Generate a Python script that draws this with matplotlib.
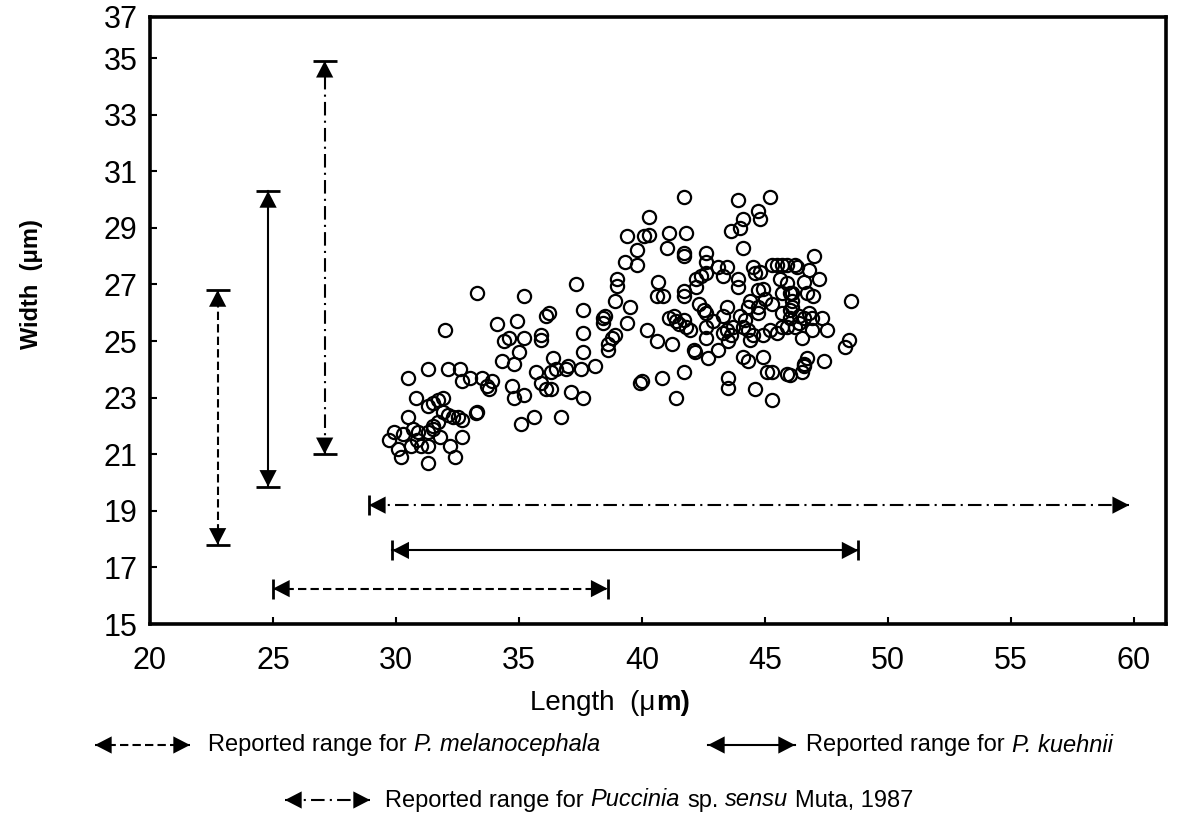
import matplotlib
matplotlib.use("Agg")
import matplotlib.pyplot as plt
from matplotlib.lines import Line2D
from matplotlib.patches import FancyArrowPatch
from matplotlib.offsetbox import TextArea, HPacker, AnchoredOffsetbox

plt.rcParams["font.family"] = ["Liberation Sans", "DejaVu Sans"]

# ── Data: teliospore length / width (µm) ─────────────────────────────
length_um = [
    33.3, 35.2, 36.1, 36.2, 32.0, 34.1, 34.9, 34.4, 34.6, 35.2,
    35.9, 35.9, 35.0, 34.3, 34.8, 36.4, 35.7, 36.3, 36.5, 35.9,
    36.1, 36.3, 34.7, 34.8, 35.2, 30.5, 31.3, 32.1, 32.6, 32.7,
    33.0, 33.5, 33.9, 33.7, 33.8, 30.8, 31.3, 31.5, 31.7, 31.9,
    33.3, 33.25, 30.5, 31.9, 32.1, 32.3, 32.5, 32.7, 31.7, 31.5,
    29.9, 29.7, 30.3, 30.7, 30.9, 30.85, 31.3, 31.5, 31.8, 32.7,
    30.1, 30.6, 31.0, 31.3, 32.2, 30.2, 32.4, 31.3, 35.1, 35.6,
    36.7, 41.7, 40.3, 39.4, 40.1, 40.3, 41.1, 41.8, 39.8, 41.0,
    41.7, 41.7, 39.3, 39.8, 37.3, 39.0, 39.0, 40.65, 40.6, 40.85,
    41.7, 41.7, 42.2, 42.2, 42.3, 38.9, 39.5, 37.6, 38.4, 38.5,
    38.4, 39.4, 41.1, 41.3, 41.4, 41.5, 41.7, 41.8, 41.95, 37.6,
    40.2, 38.9, 38.8, 38.6, 40.6, 41.2, 42.1, 42.15, 38.6, 37.6,
    37.5, 38.1, 36.9, 37.0, 37.1, 37.6, 39.9, 40.0, 40.8, 41.7,
    41.4, 43.9, 45.2, 44.7, 44.8, 44.1, 44.0, 43.6, 44.1, 42.6,
    42.6, 42.6, 42.4, 43.1, 43.45, 43.3, 43.9, 43.9, 44.5, 44.6,
    44.8, 45.3, 45.5, 45.7, 45.9, 46.2, 46.3, 45.6, 45.9, 46.0,
    45.7, 44.7, 44.9, 45.0, 44.4, 44.3, 44.7, 45.3, 46.6, 46.7,
    42.5, 42.6, 43.45, 43.3, 44.0, 44.2, 44.1, 44.7, 42.9, 42.6,
    43.45, 43.7, 43.3, 43.6, 43.5, 44.3, 44.5, 44.4, 44.9, 45.2,
    45.5, 45.7, 45.9, 46.0, 46.2, 45.7, 46.0, 46.4, 46.6, 42.6,
    43.1, 42.7, 44.1, 44.3, 44.9, 46.5, 45.1, 45.3, 45.9, 46.5,
    46.6, 43.5, 43.5, 44.6, 45.3, 47.0, 46.8, 47.2, 46.95, 46.1,
    46.1, 46.1, 46.8, 46.9, 47.3, 46.4, 46.9, 47.5, 48.5, 48.4,
    48.25, 47.4, 46.7, 46.6, 46.0,
]
width_um = [
    26.7, 26.6, 25.9, 26.0, 25.4, 25.6, 25.7, 25.0, 25.1, 25.1,
    25.2, 25.05, 24.6, 24.3, 24.2, 24.4, 23.9, 23.9, 24.0, 23.5,
    23.3, 23.3, 23.4, 23.0, 23.1, 23.7, 24.0, 24.0, 24.0, 23.6,
    23.7, 23.7, 23.6, 23.4, 23.3, 23.0, 22.7, 22.8, 22.9, 23.0,
    22.5, 22.45, 22.3, 22.5, 22.4, 22.3, 22.3, 22.2, 22.15, 22.0,
    21.8, 21.5, 21.7, 21.9, 21.8, 21.5, 21.8, 21.9, 21.6, 21.6,
    21.2, 21.3, 21.3, 21.3, 21.3, 20.9, 20.9, 20.7, 22.05, 22.3,
    22.3, 30.1, 29.4, 28.7, 28.7, 28.75, 28.8, 28.8, 28.2, 28.3,
    28.1, 28.0, 27.8, 27.7, 27.0, 27.2, 26.95, 27.1, 26.6, 26.6,
    26.75, 26.6, 27.2, 26.9, 26.3, 26.4, 26.2, 26.1, 25.8, 25.9,
    25.65, 25.65, 25.8, 25.9, 25.7, 25.6, 25.75, 25.5, 25.4, 25.3,
    25.4, 25.2, 25.1, 24.9, 25.0, 24.9, 24.7, 24.6, 24.7, 24.6,
    24.0, 24.1, 24.0, 24.1, 23.2, 23.0, 23.5, 23.6, 23.7, 23.9,
    23.0, 30.0, 30.1, 29.6, 29.3, 29.3, 29.0, 28.9, 28.3, 28.1,
    27.8, 27.4, 27.3, 27.6, 27.6, 27.3, 27.2, 26.9, 27.6, 27.4,
    27.45, 27.7, 27.7, 27.7, 27.7, 27.7, 27.6, 27.2, 27.05, 26.7,
    26.7, 26.8, 26.85, 26.5, 26.4, 26.2, 26.2, 26.3, 27.1, 26.7,
    26.1, 26.0, 26.2, 25.9, 25.9, 25.75, 25.5, 26.0, 25.7, 25.5,
    25.4, 25.5, 25.3, 25.2, 25.0, 25.4, 25.2, 25.05, 25.2, 25.4,
    25.3, 25.5, 25.5, 25.8, 25.5, 26.0, 26.1, 25.9, 25.8, 25.1,
    24.7, 24.4, 24.45, 24.3, 24.45, 25.1, 23.9, 23.9, 23.85, 23.9,
    24.1, 23.7, 23.35, 23.3, 22.9, 28.0, 27.5, 27.2, 26.6, 26.7,
    26.4, 26.2, 26.0, 25.8, 25.8, 25.65, 25.4, 25.4, 26.4, 25.05,
    24.8, 24.3, 24.4, 24.2, 23.8,
]

# ── Reported ranges: P. melanocephala, P. kuehnii, Puccinia sp. ────
width_lo  = [17.8, 19.85, 21.0]
width_hi  = [26.8, 30.3, 34.9]
length_lo = [25.0, 29.85, 28.9]
length_hi = [38.6, 48.8, 59.8]
right_cap = [True, True, False]

xticks = [20, 25, 30, 35, 40, 45, 50, 55, 60]
ytick_labels = ["15", "17", "19", "21", "23", "25", "27", "29", "31", "33", "35", "37"]

# ── Layout / style ───────────────────────────────────────────────────
vbar_x = [22.75, 24.8, 27.1]
hbar_y = [16.25, 17.6, 19.2]
dash    = (0, (4, 2))
dashdot = (0, (6.5, 2.5, 1, 2.5))
styles  = [dash, "-", dashdot]
head    = "<|-|>,head_length=1.2,head_width=0.62"

fig = plt.figure(figsize=(11.89, 8.14), dpi=100)
ax = fig.add_axes([150/1189, 1-624/814, 1016/1189, 607/814])

xmin, xmax = 20, 61.3
ymin, ymax = 15, 36.45
ax.set_xlim(xmin, xmax)
ax.set_ylim(ymin, ymax)

ax.plot(length_um, width_um, ls="none", marker="o", ms=9.5,
        mfc="none", mec="black", mew=1.6, zorder=3)


def range_arrow(p0, p1, ls, transform, target):
    # styled shaft + solid filled heads
    target.add_artist(Line2D([p0[0], p1[0]], [p0[1], p1[1]], transform=transform,
                             lw=1.5, ls=ls, color="black", dash_capstyle="butt"))
    target.add_artist(FancyArrowPatch(p0, p1, transform=transform, arrowstyle=head,
                                      mutation_scale=10, lw=0, color="black",
                                      shrinkA=0, shrinkB=0))


for i in range(3):
    # width range (vertical)
    range_arrow((vbar_x[i], width_lo[i]), (vbar_x[i], width_hi[i]),
                styles[i], ax.transData, ax)
    ax.plot([vbar_x[i], vbar_x[i]], [width_lo[i], width_hi[i]], ls="none",
            marker="_", ms=17, mew=2, color="black")
    # length range (horizontal)
    range_arrow((length_lo[i], hbar_y[i]), (length_hi[i], hbar_y[i]),
                styles[i], ax.transData, ax)
    caps = [length_lo[i]] + ([length_hi[i]] if right_cap[i] else [])
    ax.plot(caps, [hbar_y[i]] * len(caps), ls="none",
            marker="|", ms=15, mew=2, color="black")

# ── Axes styling ─────────────────────────────────────────────────────
for sp in ax.spines.values():
    sp.set_linewidth(2.6)

ax.set_xticks(xticks)
ax.set_xticklabels([str(t) for t in xticks])
ytick_pos = [15, 17, 19, 21, 23, 25, 27, 29, 31, 33, 35, ymax]
ax.set_yticks(ytick_pos)
ax.set_yticklabels(ytick_labels)
ax.tick_params(direction="in", length=5, width=1.5, labelsize=22)
ax.tick_params(axis="x", pad=16)
ax.tick_params(axis="y", pad=9)

ax.set_ylabel("Width  (μm)", fontsize=17, fontweight="bold")
ax.yaxis.set_label_coords(-0.105, 0.56)

# x label with bold "m)"
xl = HPacker(children=[TextArea("Length  (μ", textprops=dict(fontsize=20)),
                       TextArea("m)", textprops=dict(fontsize=20, fontweight="bold"))],
             sep=0, pad=0, align="baseline")
fig.add_artist(AnchoredOffsetbox(loc="center", child=xl, frameon=False, pad=0,
                                 borderpad=0, bbox_to_anchor=(610/1189, 1-703/814),
                                 bbox_transform=fig.transFigure))

# ── Legend below the axes ────────────────────────────────────────────
legend_rows = [
    (95, 190, 745, dash, ["Reported range for", "P. melanocephala"], [False, True], 208),
    (708, 795, 745, "-", ["Reported range for", "P. kuehnii"], [False, True], 806),
    (285, 370, 800, dashdot, ["Reported range for", "Puccinia", "sp.", "sensu", "Muta, 1987"],
     [False, True, False, True, False], 385),
]
for x0, x1, yy, ls, parts, ital, tx in legend_rows:
    yf = 1 - yy/814
    range_arrow((x0/1189, yf), (x1/1189, yf), ls, fig.transFigure, fig)
    boxes = [TextArea(p, textprops=dict(fontsize=17,
                                        fontstyle="italic" if it else "normal"))
             for p, it in zip(parts, ital)]
    hp = HPacker(children=boxes, sep=5, pad=0, align="baseline")
    fig.add_artist(AnchoredOffsetbox(loc="center left", child=hp, frameon=False, pad=0,
                                     borderpad=0, bbox_to_anchor=(tx/1189, yf),
                                     bbox_transform=fig.transFigure))

fig.savefig("out.png", dpi=100)
